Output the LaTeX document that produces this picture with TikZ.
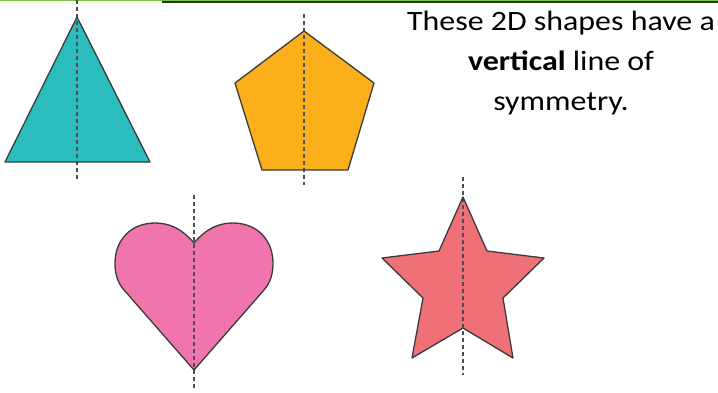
\documentclass[tikz,border=0pt]{standalone}
\usepackage{fontspec}
\setmainfont{Carlito}
\usetikzlibrary{positioning}

\definecolor{teal2d}{HTML}{2BBDBD}
\definecolor{orange2d}{HTML}{FBAF1A}
\definecolor{pink2d}{HTML}{F075AC}
\definecolor{red2d}{HTML}{F07078}
\definecolor{edge2d}{HTML}{3A3A3A}
\definecolor{rulegreen}{HTML}{7CC242}
\definecolor{ruledark}{HTML}{1F3A10}

\begin{document}
\begin{tikzpicture}[x=1pt, y=-1pt,
  shape2d/.style={draw=edge2d, line width=1.3pt, line join=round},
  axis/.style={draw=edge2d!90, line width=1.4pt, dash pattern=on 4pt off 3pt}]

\useasboundingbox (0,0) rectangle (718,392);

% top rules
\draw[rulegreen, line width=1pt] (0,0.5) -- (718,0.5);
\draw[ruledark, line width=2pt] (162,2.2) -- (718,2.2);

% --- triangle ---
\fill[teal2d] (77,17) -- (150,162) -- (5,162) -- cycle;
\draw[axis] (77,0) -- (77,181);
\draw[shape2d] (77,17) -- (150,162) -- (5,162) -- cycle;

% --- pentagon ---
\fill[orange2d] (304,31) -- (374,83) -- (348,170) -- (262,170) -- (235,83) -- cycle;
\draw[axis] (304,14) -- (304,185);
\draw[shape2d] (304,31) -- (374,83) -- (348,170) -- (262,170) -- (235,83) -- cycle;

% --- heart ---
\fill[pink2d] (194,243) .. controls (182,229) and (170,223) .. (155,223)
  .. controls (131,223) and (115,240) .. (115,263)
  .. controls (115,275) and (118,283) .. (124,290) -- (194,370) -- (264,290)
  .. controls (270,283) and (273,275) .. (273,263)
  .. controls (273,240) and (257,223) .. (233,223)
  .. controls (218,223) and (206,229) .. (194,243) -- cycle;
\draw[axis] (194,195) -- (194,390);
\draw[shape2d] (194,243) .. controls (182,229) and (170,223) .. (155,223)
  .. controls (131,223) and (115,240) .. (115,263)
  .. controls (115,275) and (118,283) .. (124,290) -- (194,370) -- (264,290)
  .. controls (270,283) and (273,275) .. (273,263)
  .. controls (273,240) and (257,223) .. (233,223)
  .. controls (218,223) and (206,229) .. (194,243) -- cycle;

% --- star ---
\fill[red2d] (463,197) -- (487,251) -- (544,258) -- (503,298) -- (513,358) -- (463,328)
  -- (412,358) -- (423,298) -- (382,258) -- (439,251) -- cycle;
\draw[axis] (463,177) -- (463,375);
\draw[shape2d] (463,197) -- (487,251) -- (544,258) -- (503,298) -- (513,358) -- (463,328)
  -- (412,358) -- (423,298) -- (382,258) -- (439,251) -- cycle;

% caption
\node[font=\fontsize{28}{40}\selectfont, align=center, anchor=north, inner sep=0pt,
  xscale=1.14, transform shape] (caption)
  at (561,11) {These 2D shapes have a\\\textbf{vertical} line of\\symmetry.};

\end{tikzpicture}
\end{document}
